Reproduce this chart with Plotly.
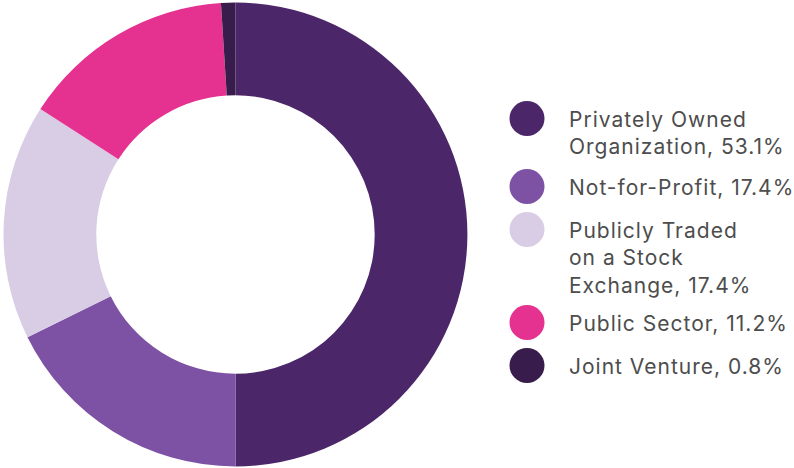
import plotly.graph_objects as go

# slice shares as drawn in the picture (legend text keeps the printed percentages)
categories = [
    "Privately Owned<br>Organization, 53.1%",
    "Not-for-Profit, 17.4%",
    "Publicly Traded<br>on a Stock<br>Exchange, 17.4%",
    "Public Sector, 11.2%",
    "Joint Venture, 0.8%",
]
shares = [50.0, 17.7, 16.4, 14.9, 1.0]
colors = ["#4B2668", "#7D52A4", "#D9CCE5", "#E5318F", "#381C4C"]

W, H = 794, 468
FONT = "Inter, Roboto, sans-serif"
FS = 21
LINE_H = 25   # vertical step per text line in the legend
GAP = 18      # extra space between legend items
LEG_TOP = 118.5
MARK_X = 527
TEXT_X = 567

fig = go.Figure()

fig.add_trace(go.Pie(
    labels=categories,
    values=shares,
    sort=False,
    direction="clockwise",
    rotation=0,
    hole=0.6,
    marker=dict(colors=colors, line=dict(width=0)),
    textinfo="none",
    hoverinfo="label",
    showlegend=False,
    domain=dict(x=[3.5 / W, 467.5 / W], y=[1.5 / H, 465.5 / H]),
))

# custom legend with big round markers
ys = []
lines_before = 0
for i, lab in enumerate(categories):
    ys.append(LEG_TOP + lines_before * LINE_H + i * GAP)
    lines_before += lab.count("<br>") + 1

fig.add_trace(go.Scatter(
    x=[MARK_X] * len(categories),
    y=ys,
    mode="markers",
    marker=dict(size=35, color=colors, line=dict(width=0)),
    hoverinfo="skip",
    showlegend=False,
))

for lab, y in zip(categories, ys):
    fig.add_annotation(
        x=TEXT_X, y=y - FS * 0.65, xref="x", yref="y",
        text=lab, showarrow=False,
        xanchor="left", yanchor="top", align="left",
        font=dict(family=FONT, size=FS, color="#4D4D4D"),
    )

fig.update_xaxes(range=[0, W], visible=False, domain=[0, 1])
fig.update_yaxes(range=[H, 0], visible=False, domain=[0, 1])
fig.update_layout(
    width=W, height=H,
    margin=dict(l=0, r=0, t=0, b=0),
    paper_bgcolor="white",
    plot_bgcolor="rgba(0,0,0,0)",
)

# drop the page margin and open up the legend lettering a little
post = (
    "document.body.style.margin='0';"
    "document.querySelectorAll('.annotation-text').forEach(function(t){"
    "t.style.letterSpacing='1px';});"
)
fig.write_html("out.html", post_script=post, config={"displayModeBar": False})
